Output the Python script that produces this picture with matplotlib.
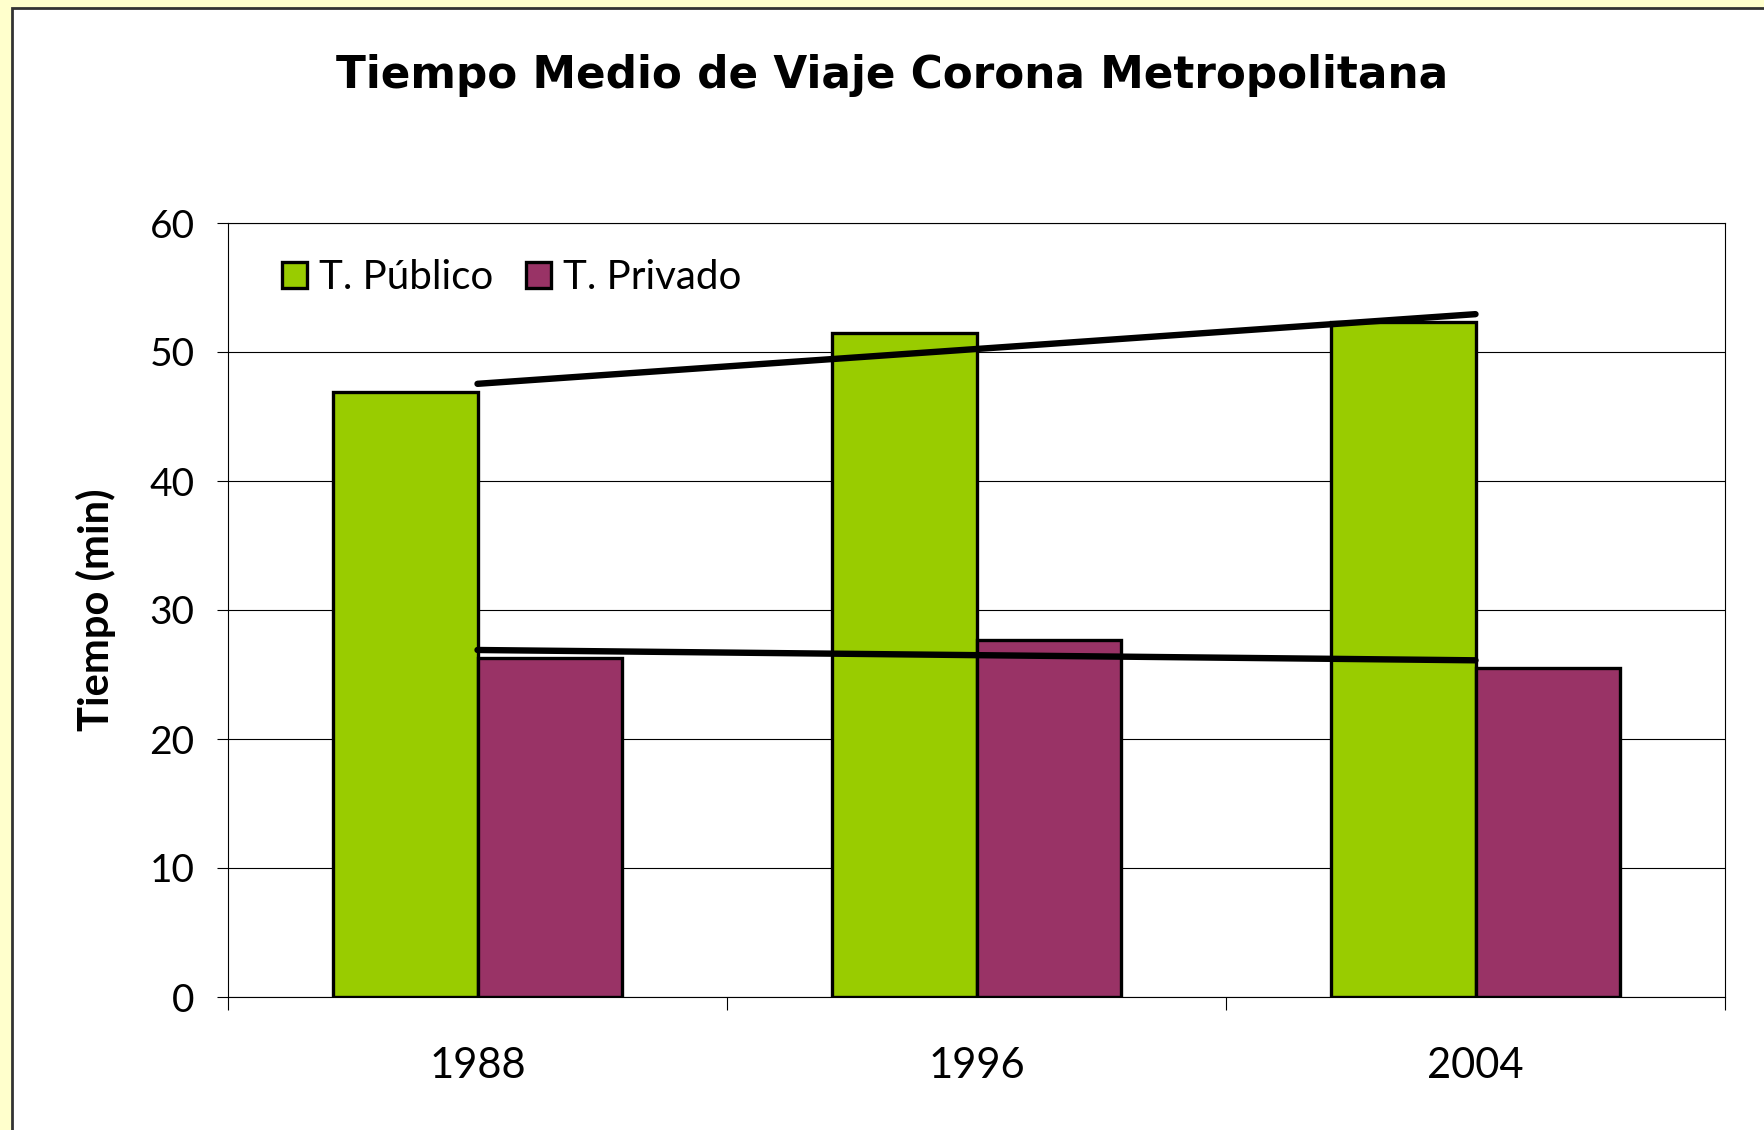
import numpy as np
import matplotlib.pyplot as plt
from matplotlib.patches import Rectangle

# average trip time (minutes) per survey year
years = ['1988', '1996', '2004']
publico = [46.9, 51.5, 52.3]
privado = [26.3, 27.7, 25.5]

plt.rcParams['font.family'] = ['Lato', 'DejaVu Sans']

fig = plt.figure(figsize=(17.64, 11.30), dpi=100)
fig.patch.set_facecolor('#FFFFCC')

# white slide panel with a dark frame
fig.patches.append(Rectangle((12 / 1764, -0.05), 1.1, 1.05 - 8 / 1130,
                             transform=fig.transFigure, facecolor='white',
                             edgecolor='#333333', linewidth=2, zorder=-1))

ax = fig.add_axes([228 / 1764, 1 - 997 / 1130, (1725 - 228) / 1764, (997 - 223) / 1130])

x = np.arange(len(years)) + 0.5
w = 0.29
b1 = ax.bar(x - w / 2, publico, w, color='#99CC00', edgecolor='black',
            linewidth=2.4, label='T. Público', zorder=3)
b2 = ax.bar(x + w / 2, privado, w, color='#993366', edgecolor='black',
            linewidth=2.4, label='T. Privado', zorder=3)

# linear trend lines over the category centres
for vals in (publico, privado):
    k, c = np.polyfit(np.arange(1, 4), vals, 1)
    ax.plot(x, k * np.arange(1, 4) + c, color='black', linewidth=4.6,
            solid_capstyle='round', zorder=4)

ax.set_xlim(0, 3)
ax.set_ylim(0, 60)
ax.set_yticks(range(0, 61, 10))
ax.yaxis.grid(True, color='black', linewidth=0.8, zorder=0)
ax.set_axisbelow(True)

ax.set_xticks([0, 1, 2, 3])
ax.set_xticklabels([])
ax.set_xticks(x, minor=True)
ax.set_xticklabels(years, minor=True, fontsize=30)
ax.tick_params(axis='x', which='major', length=9, width=0.8, direction='out')
ax.tick_params(axis='x', which='minor', length=0, pad=36)
ax.tick_params(axis='y', length=8, width=0.8, pad=16, labelsize=28)
for s in ax.spines.values():
    s.set_linewidth(0.8)

ax.set_ylabel('Tiempo (min)', fontsize=30, fontweight='bold', labelpad=24)

ax.legend(loc='upper left', bbox_to_anchor=(0.012, 1.0), ncol=2, frameon=False,
          fontsize=29, handlelength=0.62, handleheight=0.62, handletextpad=0.3,
          columnspacing=0.8)

fig.text(0.506, 0.933, 'Tiempo Medio de Viaje Corona Metropolitana',
         ha='center', va='center', fontsize=31.5, fontweight='bold',
         family='DejaVu Sans')

fig.savefig('out.png', dpi=100, facecolor=fig.get_facecolor())
